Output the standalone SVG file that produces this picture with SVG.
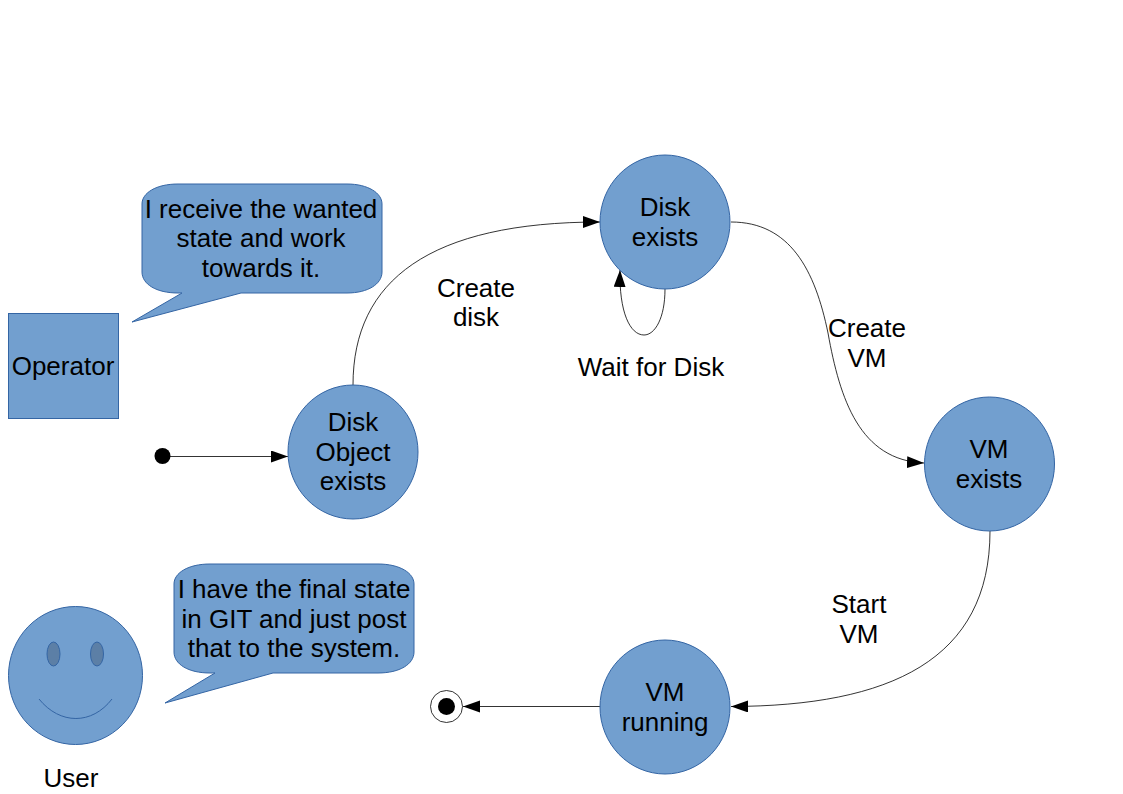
<svg xmlns="http://www.w3.org/2000/svg" width="1123" height="794" viewBox="0 0 1123 794">
<style>
.s{fill:#729fcf;stroke:#3465a4;stroke-width:1}
.c{fill:none;stroke:#000;stroke-width:.8}
text{font-family:"Liberation Sans",Arial,sans-serif;font-size:26px;fill:#000;text-anchor:middle}
</style>
<defs>
<marker id="a" markerUnits="userSpaceOnUse" markerWidth="18" markerHeight="14" refX="17" refY="6" orient="auto"><path d="M0 0L17 6L0 12Z" fill="#000"/></marker>
</defs>
<rect width="1123" height="794" fill="#fff"/>
<g id="connectors">
<path class="c" marker-end="url(#a)" d="M163 456.500H288"/>
<path class="c" marker-end="url(#a)" d="M353 385C353 280 430 222 600 222"/>
<path class="c" marker-end="url(#a)" d="M665 289C665 318 655 335 644 335C630 335 619 312 620 270"/>
<path class="c" marker-end="url(#a)" d="M731 222C790 222 815 270 828 333C840 400 860 460 924 463"/>
<path class="c" marker-end="url(#a)" d="M990 531C990 660 890 706 731 706.500"/>
<path class="c" marker-end="url(#a)" d="M601 706.500H463"/>
</g>
<g id="operator"><rect class="s" x="8.500" y="313.500" width="110" height="105"/><text x="63" y="375">Operator</text></g>
<g id="operator-note"><path class="s" d="M178 184H347C368 184 382 193 382 204V272C382 284 368 293 347 293H241L132 322L182 293H178C156 293 142 284 142 272V204C142 193 156 184 178 184Z"/><text x="261" y="218">I receive the wanted</text><text x="261" y="247">state and work</text><text x="261" y="277">towards it.</text></g>
<g id="start"><circle cx="162.500" cy="456" r="8" fill="#000"/></g>
<g id="disk-object"><ellipse class="s" cx="353" cy="452" rx="65" ry="67"/><text x="353" y="431">Disk</text><text x="353" y="461">Object</text><text x="353" y="490">exists</text></g>
<g id="disk-exists"><ellipse class="s" cx="665" cy="222" rx="65" ry="67"/><text x="665" y="216">Disk</text><text x="665" y="246">exists</text></g>
<g id="vm-exists"><ellipse class="s" cx="989.500" cy="464" rx="65" ry="67"/><text x="989" y="458">VM</text><text x="989" y="488">exists</text></g>
<g id="vm-running"><ellipse class="s" cx="665" cy="707" rx="65" ry="67"/><text x="665" y="701">VM</text><text x="665" y="731">running</text></g>
<g id="end"><circle cx="446.500" cy="706.500" r="16" fill="#fff" stroke="#000" stroke-width=".8"/><circle cx="446.500" cy="706.500" r="8.500" fill="#000"/></g>
<g id="user"><ellipse class="s" cx="75.500" cy="675.500" rx="67" ry="69"/><ellipse cx="53.500" cy="654" rx="6.500" ry="12" fill="#5c7fa6" stroke="#3465a4"/><ellipse cx="97" cy="654" rx="6.500" ry="12" fill="#5c7fa6" stroke="#3465a4"/><path d="M39 699C60 725 92 725 112 699" fill="none" stroke="#3465a4"/><text x="71" y="787">User</text></g>
<g id="user-note"><path class="s" d="M210 564H378C400 564 414 573 414 584V652C414 664 400 673 378 673H273L165 703L215 673H210C188 673 174 664 174 652V584C174 573 188 564 210 564Z"/><text x="294" y="598">I have the final state</text><text x="294" y="628">in GIT and just post</text><text x="294" y="657">that to the system.</text></g>
<g id="labels"><text x="476" y="297">Create</text><text x="476" y="326">disk</text><text x="651" y="376">Wait for Disk</text><text x="867" y="337">Create</text><text x="867" y="367">VM</text><text x="859" y="613">Start</text><text x="859" y="643">VM</text></g>
</svg>
